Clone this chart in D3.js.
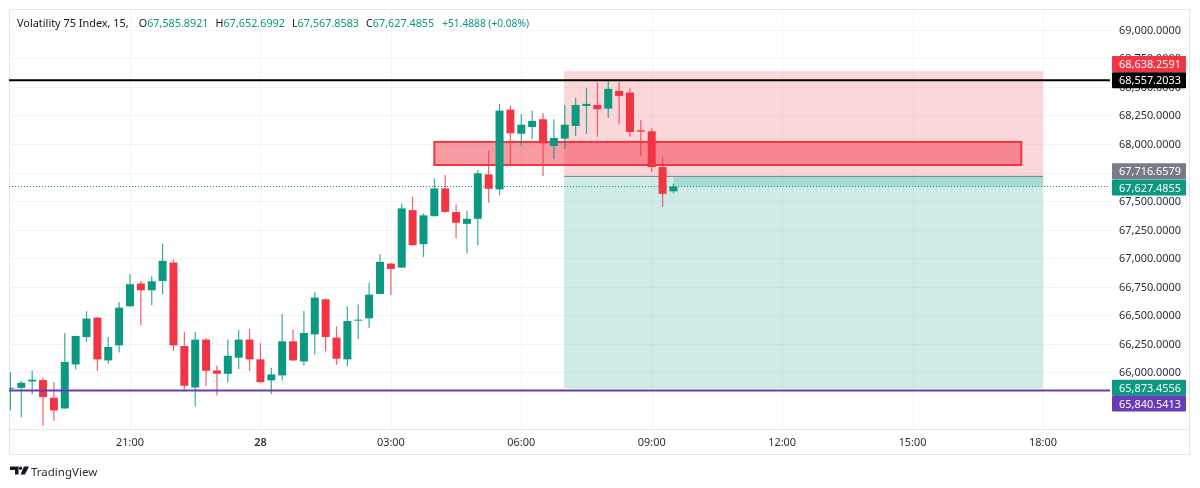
<!DOCTYPE html>
<html><head><meta charset="utf-8">
<style>html,body{margin:0;padding:0;background:#fff}svg{display:block}text{font-family:"Noto Sans",sans-serif}</style>
<script src="https://cdn.jsdelivr.net/npm/d3@7"></script></head><body>
<svg id="c" width="1200" height="488"></svg>
<script>
const opens=[65857,65865,65921,65933,65778,65684,66070,66310,66479,66105,66237,66579,66778,66719,66801,66962,66231,65868,66287,66017,65988,66129,66287,66114,65930,65974,66272,66096,66333,66640,66304,66114,66456,66474,66687,66953,66918,67421,67123,67368,67611,67404,67301,67345,67734,67603,68301,68090,68149,68217,67982,68047,68158,68333,68342,68310,68465,68450,68120,68111,67798,67585.89];
const highs=[66003,65925,66017,65953,65915,66345,66322,66535,66485,66310,66617,66860,66801,66842,67129,66988,66354,66354,66301,66061,66287,66368,66380,66257,66041,66512,66374,66538,66702,66646,66403,66579,66594,66784,67035,66956,67480,67538,67392,67699,67728,67471,67415,67772,67941,68351,68336,68261,68292,68269,68217,68342,68404,68491,68546,68553,68546,68489,68211,68138,67889,67652.7];
const lows=[65667,65608,65807,65532,65576,65684,66026,66266,66012,66076,66175,66575,66412,66588,66684,66187,65836,65702,65880,65798,65912,66029,66012,65909,65810,65930,66100,66061,66158,66184,66067,66053,66292,66392,66685,66678,66915,67110,67011,67365,67397,67173,67041,67114,67485,67550,67816,67982,68041,67719,67868,67959,68073,68088,68064,68228,68173,68064,67895,67754,67450,67567.86];
const closes=[65865,65909,65936,65784,65667,66091,66319,66471,66114,66222,66567,66772,66719,66798,66977,66237,65883,66287,66014,65988,66146,66287,66114,65915,65982,66272,66105,66345,66655,66310,66120,66450,66462,66681,66968,66906,67436,67114,67375,67611,67406,67310,67345,67743,67608,68292,68094,68169,68202,68006,68053,68169,68342,68351,68304,68483,68421,68105,68108,67798,67564,67627.4855];
const firstBarHour=-2.75; // 18:15, hours relative to 21:00
const barHours=0.25;
const priceTicks=[69000,68750,68500,68250,68000,67750,67500,67250,67000,66750,66500,66250,66000];
const timeTicks=[0,3,6,9,12,15,18,21];
const timeLabels=["21:00","28","03:00","06:00","09:00","12:00","15:00","18:00"];
const stopPrice=68638.2591, entryPrice=67716.6579, targetPrice=65873.4556, lastPrice=67627.4855;
const blackLine=68557.2033, purpleLine=65840.5413;
const toolStart=10, toolEnd=21, lastBarHour=12.5;
const zoneTop=68018, zoneBottom=67816, zoneStart=7, zoneEnd=20.5;
const tags=[["68,638.2591",68638.2591,"#f23645",-7],["68,557.2033",68557.2033,"#000000",0],["67,716.6579",67716.6579,"#787b86",-5],["67,627.4855",67627.4855,"#089981",1],["65,873.4556",65873.4556,"#089981",1],["65,840.5413",65840.5413,"#673ab7",13]];
const headerParts=[["Volatility 75 Index, 15,","#131722",0,10.9],["O","#131722",10,10.8],["67,585.8921","#089981",0,10.8],["H","#131722",7,10.8],["67,652.6992","#089981",0,10.8],["L","#131722",7,10.8],["67,567.8583","#089981",0,10.8],["C","#131722",7,10.8],["67,627.4855","#089981",0,10.8],["+51.4888 (+0.08%)","#089981",8,10.2]];

const UP="#089981",DOWN="#f23645";
const L=9,R=1110,FR=1190,T=9,B=429,FB=455;
const svg=d3.select("#c");
const y=d3.scaleLinear().domain([68000,66000]).range([144,372.4]);
const x=d3.scaleLinear().domain([0,21]).range([130,1043]);
const barX=i=>x(firstBarHour+i*barHours);
svg.append("defs").append("clipPath").attr("id","plot").append("rect").attr("x",L).attr("y",T).attr("width",FR-L).attr("height",B-T);
const soft=svg.append("defs").append("filter").attr("id","soft");soft.append("feGaussianBlur").attr("stdDeviation",0.35);
const root=svg.append("g").attr("filter","url(#soft)");
// frame
root.append("rect").attr("x",L+.5).attr("y",T+.5).attr("width",FR-L-1).attr("height",FB-T-1).attr("fill","#fff").attr("stroke","#e6e7ea");
root.append("line").attr("x1",L).attr("x2",FR).attr("y1",B+.5).attr("y2",B+.5).attr("stroke","#e6e7ea");
// grid
const gridCol="#f3f4f6";
root.append("g").selectAll("line").data(priceTicks).join("line").attr("x1",L).attr("x2",FR-78).attr("y1",d=>Math.round(y(d))+.5).attr("y2",d=>Math.round(y(d))+.5).attr("stroke",gridCol);
root.append("g").selectAll("line").data(timeTicks).join("line").attr("x1",d=>Math.round(x(d))+.5).attr("x2",d=>Math.round(x(d))+.5).attr("y1",T).attr("y2",B).attr("stroke",gridCol);
const plot=root.append("g").attr("clip-path","url(#plot)");
// position tool
const tx0=x(toolStart)-.6,tw=x(toolEnd)-tx0;
plot.append("rect").attr("x",tx0).attr("width",tw).attr("y",y(stopPrice)).attr("height",y(entryPrice)-y(stopPrice)).attr("fill","rgba(242,54,69,.2)");
plot.append("rect").attr("x",tx0).attr("width",tw).attr("y",y(entryPrice)).attr("height",y(targetPrice)-y(entryPrice)+1.5).attr("fill","rgba(8,153,129,.2)");
plot.append("rect").attr("x",x(lastBarHour)).attr("width",x(toolEnd)-x(lastBarHour)).attr("y",y(entryPrice)).attr("height",y(lastPrice)-y(entryPrice)).attr("fill","rgba(8,153,129,.2)");
plot.append("line").attr("x1",tx0).attr("x2",x(toolEnd)).attr("y1",y(entryPrice)).attr("y2",y(entryPrice)).attr("stroke","#787b86");
// zone
plot.append("rect").attr("x",x(zoneStart)).attr("width",x(zoneEnd)-x(zoneStart)).attr("y",y(zoneTop)).attr("height",y(zoneBottom)-y(zoneTop)).attr("fill","rgba(242,54,69,.5)").attr("stroke",DOWN).attr("stroke-width",2);
// last price dotted
plot.append("line").attr("x1",L).attr("x2",R).attr("y1",y(lastPrice)).attr("y2",y(lastPrice)).attr("stroke",UP).attr("stroke-dasharray","1 2");
// candles
const idx=d3.range(opens.length);
const g=plot.append("g");
g.selectAll(".w").data(idx).join("line").attr("x1",barX).attr("x2",barX).attr("y1",i=>y(highs[i])).attr("y2",i=>y(lows[i])).attr("stroke",i=>closes[i]>=opens[i]?UP:DOWN).attr("stroke-opacity",.8).attr("stroke-width",1.2);
g.selectAll(".b").data(idx).join("rect").attr("x",i=>barX(i)-4).attr("width",8).attr("y",i=>y(Math.max(opens[i],closes[i]))).attr("height",i=>Math.max(1,Math.abs(y(opens[i])-y(closes[i])))).attr("fill",i=>closes[i]>=opens[i]?UP:DOWN);
// horizontal lines
root.append("line").attr("x1",L).attr("x2",R).attr("y1",y(blackLine)).attr("y2",y(blackLine)).attr("stroke","#000").attr("stroke-width",2);
root.append("line").attr("x1",L).attr("x2",R).attr("y1",y(purpleLine)).attr("y2",y(purpleLine)).attr("stroke","#673ab7").attr("stroke-width",2);
// axes labels
const fs="10.9px";
const axisCol="#2a2e39";
root.append("g").selectAll("text").data(priceTicks).join("text").attr("x",1150).attr("y",d=>y(d)+4).attr("text-anchor","middle").attr("font-size",fs).attr("fill",axisCol).text(d=>d3.format(",.4f")(d));
root.append("g").selectAll("text").data(timeTicks).join("text").attr("x",d=>x(d)).attr("y",446).attr("text-anchor","middle").attr("font-size",fs).attr("fill",axisCol).attr("font-weight",(d,i)=>timeLabels[i]==="28"?600:400).text((d,i)=>timeLabels[i]);
// tags
const tg=root.append("g").selectAll("g").data(tags).join("g").attr("transform",d=>`translate(1112,${y(d[1])+d[3]})`);
tg.append("rect").attr("y",-8).attr("width",74).attr("height",16).attr("rx",1).attr("fill",d=>d[2]);
tg.append("text").attr("x",38).attr("y",4).attr("text-anchor","middle").attr("font-size",fs).attr("fill","#fff").text(d=>d[0]);
// header
const h=root.append("text").attr("x",17).attr("y",27);
h.selectAll("tspan").data(headerParts).join("tspan").attr("dx",d=>d[2]).attr("font-size",d=>d[3]+"px").attr("fill",d=>d[1]).text(d=>d[0]);
// logo
const lg=root.append("g").attr("fill","#131722");
lg.append("path").attr("d","M10 466.5h8.5v8h-3.500v-4.500h-5z");
lg.append("circle").attr("cx",20.500).attr("cy",468.300).attr("r",1.700);
lg.append("path").attr("d","M24 466.500h5l-4 8h-4.500z");
root.append("text").attr("x",31).attr("y",476).attr("font-size","11.500px").attr("fill","#2a2e39").text("TradingView");
</script></body></html>
